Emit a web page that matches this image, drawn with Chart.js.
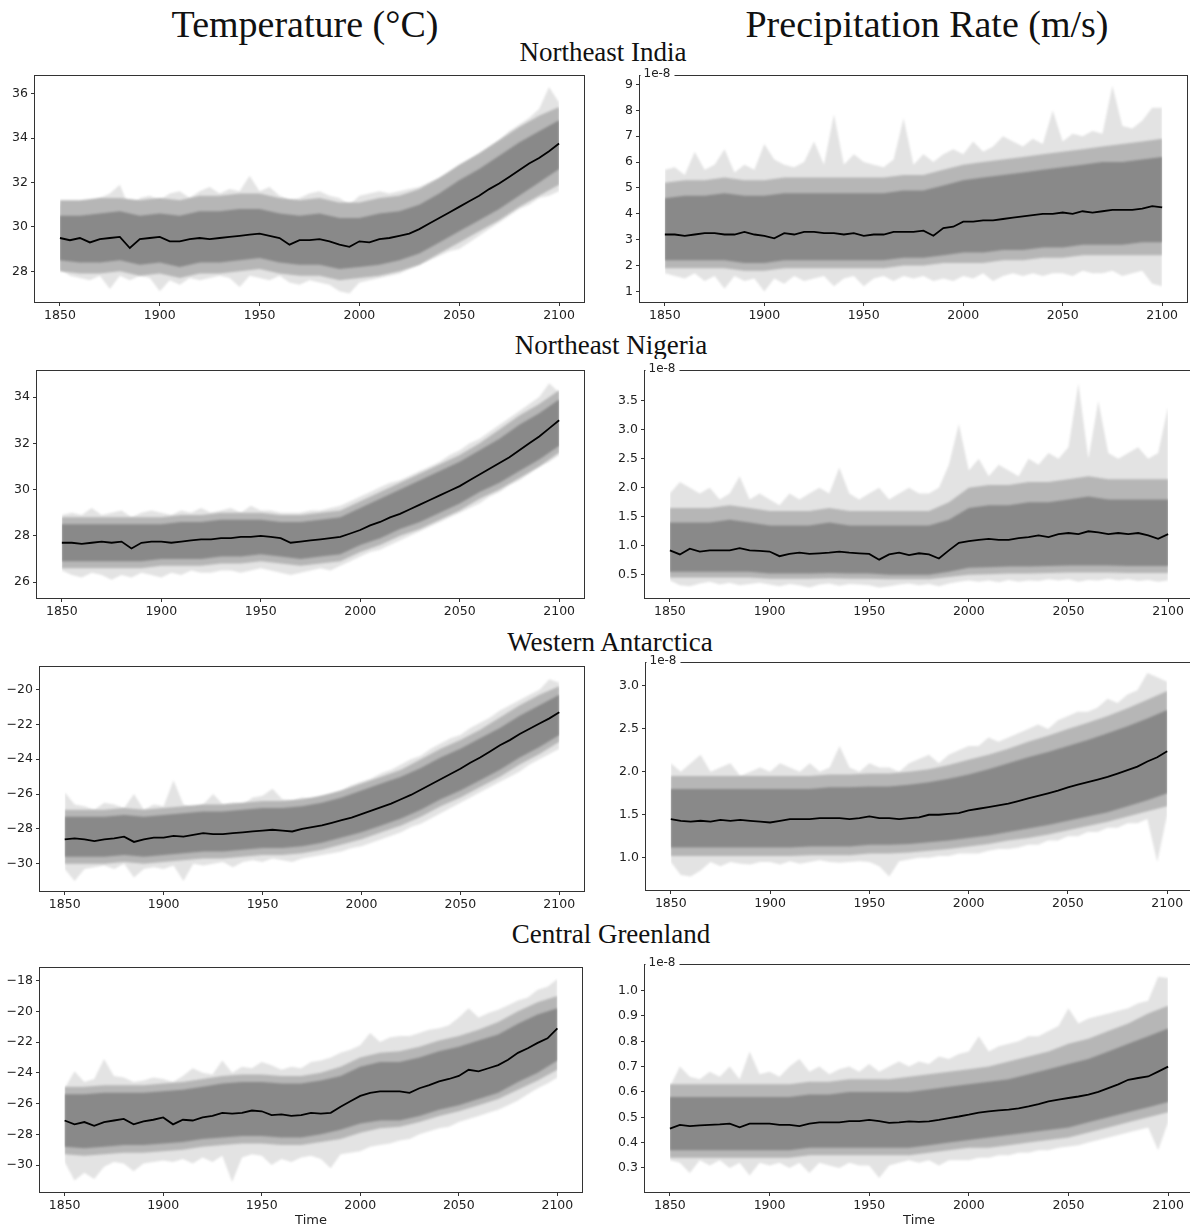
<!DOCTYPE html>
<html><head><meta charset="utf-8">
<script src="https://cdn.jsdelivr.net/npm/chart.js@4.4.1/dist/chart.umd.min.js"></script>
<style>
html,body{margin:0;padding:0;background:#fff;}
body{width:1190px;height:1232px;overflow:hidden;position:relative;}
.t{position:absolute;font-family:'Liberation Serif',serif;color:#111;white-space:nowrap;line-height:1;transform:translateX(-50%);}
.big{font-size:38px;}
.row{font-size:27px;}
canvas{position:absolute;}
</style></head>
<body>
<div class="t big" style="left:305px;top:5px">Temperature (°C)</div>
<div class="t big" style="left:927px;top:5px">Precipitation Rate (m/s)</div>
<div class="t row" style="left:603px;top:39px">Northeast India</div>
<div class="t row" style="left:611px;top:332px">Northeast Nigeria</div>
<div class="t row" style="left:610px;top:629px">Western Antarctica</div>
<div class="t row" style="left:611px;top:921px">Central Greenland</div>
<script>
// ---------- categories ----------
const years5 = [1850,1855,1860,1865,1870,1875,1880,1885,1890,1895,
  1900,1905,1910,1915,1920,1925,1930,1935,1940,1945,
  1950,1955,1960,1965,1970,1975,1980,1985,1990,1995,
  2000,2005,2010,2015,2020,2025,2030,2035,2040,2045,
  2050,2055,2060,2065,2070,2075,2080,2085,2090,2095,2100];
const years10 = [1850,1860,1870,1880,1890,1900,1910,1920,1930,1940,1950,1960,1970,1980,1990,
  2000,2010,2020,2030,2040,2050,2060,2070,2080,2090,2100];
const xTicks = [1850,1900,1950,2000,2050,2100];

// ---------- Northeast India, temperature (°C) ----------
const indiaTempMean = [29.5,29.4,29.5,29.3,29.45,29.5,29.55,29.05,29.45,29.5,
  29.55,29.35,29.35,29.45,29.5,29.45,29.5,29.55,29.6,29.65,
  29.7,29.6,29.5,29.2,29.4,29.4,29.45,29.35,29.2,29.1,
  29.35,29.3,29.45,29.5,29.6,29.7,29.9,30.15,30.4,30.65,
  30.9,31.15,31.4,31.7,31.95,32.25,32.55,32.85,33.1,33.4,33.75];
const indiaTempHi = [31.0,31.0,30.9,31.1,31.3,31.5,31.9,30.8,31.3,31.4,
  31.2,31.5,31.6,31.3,31.6,31.8,31.5,31.7,31.6,32.3,
  31.6,31.8,31.4,31.2,31.3,31.5,31.6,31.4,31.3,31.0,
  31.4,31.5,31.6,31.5,31.6,31.7,31.8,32.0,32.2,32.4,
  32.7,33.0,33.3,33.6,33.9,34.3,34.6,34.9,35.3,36.3,35.6];
const indiaTempLo = [28.1,27.8,27.7,27.6,27.8,27.2,27.8,27.6,27.8,27.7,
  27.1,27.6,27.4,27.7,27.6,27.7,27.8,27.7,27.3,27.8,
  27.7,27.6,27.8,27.5,27.4,27.6,27.5,27.4,27.1,27.0,
  27.5,27.6,27.7,27.8,27.9,28.1,28.3,28.5,28.7,28.9,
  29.0,29.3,29.6,29.9,30.2,30.5,30.8,31.0,31.3,31.4,31.6];
const indiaTempMidHi = [31.2,31.2,31.3,31.3,31.2,31.3,31.2,31.4,31.4,31.5,31.5,31.3,31.2,31.3,31.1,
  31.1,31.3,31.4,31.7,32.2,32.8,33.3,33.9,34.5,35.0,35.4];
const indiaTempMidLo = [28.0,27.9,27.9,28.0,27.8,27.9,27.7,27.9,27.9,28.0,28.1,27.9,27.8,27.8,27.6,
  27.7,27.8,28.0,28.3,28.8,29.3,29.8,30.3,30.9,31.4,31.9];
const indiaTempCoreHi = [30.5,30.5,30.6,30.7,30.5,30.6,30.5,30.7,30.7,30.8,30.8,30.6,30.5,30.6,30.4,
  30.4,30.6,30.7,31.0,31.5,32.1,32.6,33.2,33.8,34.3,34.8];
const indiaTempCoreLo = [28.5,28.4,28.4,28.5,28.3,28.4,28.2,28.4,28.4,28.5,28.6,28.4,28.3,28.3,28.1,
  28.2,28.3,28.5,28.8,29.3,29.8,30.3,30.8,31.4,32.0,32.6];
const indiaTempTicks = [28,30,32,34,36];

// ---------- Northeast Nigeria, temperature (°C) ----------
const nigeriaTempMean = [27.7,27.7,27.65,27.7,27.75,27.7,27.75,27.45,27.7,27.75,
  27.75,27.7,27.75,27.8,27.85,27.85,27.9,27.9,27.95,27.95,
  28.0,27.95,27.9,27.7,27.75,27.8,27.85,27.9,27.95,28.1,
  28.25,28.45,28.6,28.8,28.95,29.15,29.35,29.55,29.75,29.95,
  30.15,30.4,30.65,30.9,31.15,31.4,31.7,32.0,32.3,32.65,33.0];
const nigeriaTempHi = [28.9,29.0,28.9,29.2,28.9,29.0,29.1,28.8,29.0,29.1,
  29.0,28.9,29.1,29.0,29.2,29.0,29.1,29.2,29.0,29.3,
  29.1,29.1,29.0,29.0,29.0,29.1,29.1,29.2,29.3,29.5,
  29.7,29.9,30.1,30.3,30.4,30.6,30.8,31.0,31.2,31.5,
  31.7,32.0,32.2,32.5,32.8,33.1,33.4,33.7,34.0,34.6,34.2];
const nigeriaTempLo = [26.5,26.3,26.2,26.4,26.3,26.1,26.3,26.2,26.4,26.3,
  26.2,26.4,26.3,26.5,26.4,26.4,26.5,26.5,26.4,26.5,
  26.6,26.5,26.4,26.3,26.4,26.5,26.6,26.5,26.7,26.9,
  27.1,27.3,27.4,27.6,27.8,28.0,28.2,28.4,28.6,28.8,
  29.0,29.2,29.4,29.7,29.9,30.2,30.4,30.7,31.0,31.2,31.5];
const nigeriaTempMidHi = [28.8,28.8,28.8,28.8,28.8,28.8,28.9,28.9,29.0,29.0,29.0,28.9,28.9,29.0,29.1,
  29.5,29.9,30.3,30.7,31.1,31.5,32.0,32.6,33.2,33.7,34.3];
const nigeriaTempMidLo = [26.6,26.6,26.6,26.6,26.6,26.7,26.7,26.7,26.8,26.8,26.9,26.8,26.7,26.8,26.9,
  27.3,27.6,28.0,28.3,28.7,29.1,29.6,30.0,30.5,31.0,31.6];
const nigeriaTempCoreHi = [28.5,28.5,28.5,28.5,28.5,28.5,28.6,28.6,28.7,28.7,28.7,28.6,28.6,28.7,28.8,
  29.2,29.6,30.0,30.4,30.8,31.2,31.7,32.2,32.8,33.3,33.9];
const nigeriaTempCoreLo = [26.9,26.9,26.9,26.9,26.9,27.0,27.0,27.0,27.1,27.1,27.2,27.1,27.0,27.1,27.2,
  27.6,27.9,28.3,28.6,29.0,29.4,29.9,30.3,30.8,31.3,31.9];
const nigeriaTempTicks = [26,28,30,32,34];

// ---------- Western Antarctica, temperature (°C) ----------
const antarcticaTempMean = [-28.6,-28.55,-28.6,-28.7,-28.6,-28.55,-28.45,-28.75,-28.6,-28.5,
  -28.5,-28.4,-28.45,-28.35,-28.25,-28.3,-28.3,-28.25,-28.2,-28.15,
  -28.1,-28.05,-28.1,-28.15,-28.0,-27.9,-27.8,-27.65,-27.5,-27.35,
  -27.15,-26.95,-26.75,-26.55,-26.3,-26.05,-25.75,-25.45,-25.15,-24.85,
  -24.55,-24.2,-23.9,-23.55,-23.2,-22.9,-22.55,-22.25,-21.95,-21.65,-21.3];
const antarcticaTempHi = [-25.9,-26.6,-26.7,-26.9,-26.5,-26.6,-26.8,-26.0,-26.9,-26.6,
  -26.7,-25.2,-26.6,-26.8,-26.6,-26.0,-26.6,-26.5,-26.6,-26.2,
  -26.1,-25.7,-26.3,-26.4,-26.2,-26.3,-26.1,-26.0,-25.8,-25.5,
  -25.3,-25.1,-24.8,-24.6,-24.3,-24.0,-23.8,-23.4,-23.1,-22.8,
  -22.6,-22.2,-21.9,-21.6,-21.2,-20.9,-20.6,-20.3,-20.0,-19.4,-19.6];
const antarcticaTempLo = [-30.3,-31.0,-30.3,-30.2,-30.1,-30.3,-30.0,-30.8,-30.3,-30.2,
  -30.3,-30.1,-31.0,-30.0,-30.1,-30.0,-29.9,-30.2,-29.9,-29.8,
  -29.9,-29.7,-29.8,-29.9,-29.7,-29.6,-29.5,-29.4,-29.3,-29.1,
  -29.0,-28.8,-28.6,-28.4,-28.2,-27.9,-27.7,-27.4,-27.1,-26.8,
  -26.5,-26.2,-25.9,-25.6,-25.3,-25.0,-24.7,-24.3,-24.0,-23.7,-23.4];
const antarcticaTempMidHi = [-26.9,-26.9,-26.9,-26.8,-26.9,-26.8,-26.7,-26.6,-26.6,-26.5,-26.4,-26.4,-26.3,-26.1,-25.8,
  -25.4,-25.0,-24.6,-24.0,-23.4,-22.9,-22.3,-21.6,-20.9,-20.3,-19.8];
const antarcticaTempMidLo = [-30.0,-30.0,-30.0,-29.9,-30.0,-29.9,-29.8,-29.7,-29.7,-29.6,-29.5,-29.5,-29.4,-29.2,-28.9,
  -28.6,-28.2,-27.8,-27.3,-26.7,-26.2,-25.6,-25.0,-24.3,-23.7,-23.0];
const antarcticaTempCoreHi = [-27.3,-27.3,-27.3,-27.2,-27.3,-27.2,-27.1,-27.0,-27.0,-26.9,-26.8,-26.8,-26.7,-26.5,-26.2,
  -25.8,-25.4,-25.0,-24.5,-23.9,-23.4,-22.8,-22.2,-21.5,-20.9,-20.3];
const antarcticaTempCoreLo = [-29.6,-29.6,-29.6,-29.5,-29.6,-29.5,-29.4,-29.3,-29.3,-29.2,-29.1,-29.1,-29.0,-28.8,-28.5,
  -28.2,-27.8,-27.4,-26.9,-26.3,-25.8,-25.2,-24.6,-23.9,-23.3,-22.6];
const antarcticaTempTicks = [-30,-28,-26,-24,-22,-20];

// ---------- Central Greenland, temperature (°C) ----------
const greenlandTempMean = [-27.1,-27.35,-27.2,-27.45,-27.2,-27.1,-27.0,-27.35,-27.15,-27.05,
  -26.9,-27.35,-27.05,-27.1,-26.9,-26.8,-26.6,-26.65,-26.6,-26.45,
  -26.5,-26.75,-26.7,-26.8,-26.75,-26.6,-26.65,-26.6,-26.2,-25.85,
  -25.5,-25.3,-25.2,-25.2,-25.2,-25.3,-25.0,-24.8,-24.55,-24.4,
  -24.2,-23.8,-23.9,-23.7,-23.5,-23.15,-22.7,-22.4,-22.05,-21.75,-21.1];
const greenlandTempHi = [-25.0,-23.9,-24.6,-24.4,-23.1,-24.2,-24.3,-24.6,-24.5,-24.3,
  -24.4,-24.6,-24.2,-23.7,-24.0,-24.1,-23.2,-24.0,-23.6,-23.7,
  -23.3,-23.5,-23.8,-23.6,-23.7,-23.3,-23.2,-23.0,-22.7,-22.5,
  -22.2,-21.4,-22.0,-21.7,-21.6,-21.6,-21.4,-21.2,-21.1,-20.9,
  -20.4,-19.8,-20.4,-20.1,-19.9,-19.6,-19.3,-19.1,-18.6,-18.4,-17.9];
const greenlandTempLo = [-29.8,-31.0,-30.5,-30.9,-30.1,-29.8,-29.9,-30.4,-29.9,-29.8,
  -29.7,-29.8,-29.6,-29.9,-29.5,-29.8,-29.4,-31.1,-29.5,-29.3,
  -29.4,-30.0,-29.6,-29.8,-29.5,-29.4,-29.6,-30.2,-29.3,-29.2,
  -29.1,-28.8,-28.7,-28.6,-28.4,-28.3,-28.0,-27.8,-27.6,-27.5,
  -27.2,-27.0,-26.8,-26.6,-26.4,-26.1,-25.8,-25.4,-25.0,-24.7,-24.3];
const greenlandTempMidHi = [-24.9,-24.9,-24.8,-24.8,-24.8,-24.7,-24.6,-24.4,-24.2,-24.1,-24.1,-24.2,-24.2,-24.0,-23.6,
  -23.0,-22.7,-22.6,-22.3,-21.9,-21.6,-21.2,-20.7,-20.0,-19.4,-19.0];
const greenlandTempMidLo = [-29.3,-29.4,-29.3,-29.2,-29.2,-29.1,-29.0,-28.8,-28.7,-28.6,-28.6,-28.7,-28.7,-28.5,-28.3,
  -27.9,-27.6,-27.5,-27.2,-26.8,-26.5,-26.1,-25.7,-25.1,-24.5,-23.8];
const greenlandTempCoreHi = [-25.4,-25.4,-25.3,-25.3,-25.3,-25.2,-25.1,-24.9,-24.7,-24.6,-24.6,-24.7,-24.7,-24.5,-24.2,
  -23.6,-23.3,-23.3,-23.0,-22.6,-22.3,-21.9,-21.5,-20.8,-20.2,-19.8];
const greenlandTempCoreLo = [-28.8,-28.9,-28.8,-28.7,-28.7,-28.6,-28.5,-28.3,-28.2,-28.1,-28.1,-28.2,-28.2,-28.0,-27.7,
  -27.3,-27.1,-27.1,-26.8,-26.4,-26.1,-25.7,-25.3,-24.6,-24.0,-23.2];
const greenlandTempTicks = [-30,-28,-26,-24,-22,-20,-18];

// ---------- precipitation rate, in units of 1e-8 m/s ----------
const indiaPrecipMean = [3.2,3.2,3.15,3.2,3.25,3.25,3.2,3.2,3.3,3.2,
  3.15,3.05,3.25,3.2,3.3,3.3,3.25,3.25,3.2,3.25,
  3.15,3.2,3.2,3.3,3.3,3.3,3.35,3.15,3.45,3.5,
  3.7,3.7,3.75,3.75,3.8,3.85,3.9,3.95,4.0,4.0,
  4.05,4.0,4.1,4.05,4.1,4.15,4.15,4.15,4.2,4.3,4.25];
const indiaPrecipHi = [5.7,5.8,5.5,6.4,5.7,5.9,6.5,5.6,5.9,5.7,
  6.7,6.1,5.9,5.8,6.0,6.8,5.9,7.85,5.9,6.3,
  6.0,5.9,5.8,6.1,7.7,5.9,6.3,6.0,6.3,6.5,
  6.3,6.8,6.4,6.6,7.0,6.8,6.6,6.9,6.7,8.0,
  6.8,7.1,7.0,7.2,7.1,8.95,7.4,7.3,7.6,8.1,8.1];
const indiaPrecipLo = [1.7,1.6,1.5,1.7,1.4,1.6,1.1,1.6,1.4,1.5,
  1.0,1.5,1.3,1.6,1.4,1.5,1.6,1.2,1.5,1.6,
  1.2,1.5,1.6,1.4,1.6,1.5,1.6,1.4,1.5,1.4,
  1.6,1.5,1.7,1.4,1.6,1.7,1.6,1.7,1.6,1.7,
  1.7,1.6,1.8,1.7,1.7,1.8,1.6,1.7,1.8,1.3,1.2];
const indiaPrecipMidHi = [5.2,5.3,5.3,5.4,5.3,5.3,5.4,5.4,5.4,5.4,5.4,5.4,5.5,5.5,5.7,
  5.9,6.0,6.1,6.2,6.3,6.4,6.5,6.6,6.7,6.8,6.9];
const indiaPrecipMidLo = [1.9,1.9,1.9,1.9,1.8,1.8,1.9,1.9,1.9,1.9,1.9,1.9,2.0,2.0,2.1,
  2.1,2.1,2.2,2.2,2.3,2.3,2.4,2.4,2.4,2.4,2.4];
const indiaPrecipCoreHi = [4.6,4.7,4.7,4.8,4.7,4.7,4.8,4.8,4.8,4.8,4.8,4.8,4.9,4.9,5.1,
  5.3,5.4,5.5,5.6,5.7,5.8,5.9,6.0,6.0,6.1,6.2];
const indiaPrecipCoreLo = [2.2,2.2,2.2,2.2,2.1,2.1,2.2,2.2,2.2,2.2,2.2,2.2,2.3,2.3,2.4,
  2.5,2.5,2.6,2.6,2.7,2.7,2.8,2.8,2.8,2.9,2.9];
const indiaPrecipTicks = [1,2,3,4,5,6,7,8,9];

const nigeriaPrecipMean = [0.92,0.85,0.95,0.9,0.92,0.92,0.92,0.96,0.92,0.91,
  0.9,0.82,0.86,0.88,0.86,0.87,0.88,0.9,0.88,0.87,
  0.86,0.76,0.85,0.88,0.84,0.87,0.85,0.78,0.92,1.05,
  1.08,1.1,1.12,1.1,1.1,1.13,1.15,1.18,1.15,1.2,
  1.22,1.2,1.25,1.23,1.2,1.22,1.2,1.22,1.18,1.12,1.2];
const nigeriaPrecipHi = [1.9,2.1,2.0,1.9,2.0,1.8,1.9,2.2,1.8,1.9,
  1.8,1.7,1.9,1.8,1.9,2.0,1.9,2.35,1.9,1.8,
  1.9,2.0,1.8,1.9,2.0,1.9,1.9,2.0,2.4,3.1,
  2.3,2.5,2.2,2.4,2.3,2.2,2.5,2.4,2.6,2.5,
  2.7,3.8,2.5,3.5,2.6,2.5,2.6,2.7,2.5,2.6,3.4];
const nigeriaPrecipLo = [0.4,0.32,0.3,0.35,0.38,0.33,0.36,0.32,0.34,0.36,
  0.33,0.3,0.34,0.32,0.28,0.33,0.35,0.31,0.34,0.33,
  0.32,0.28,0.3,0.33,0.35,0.32,0.34,0.3,0.35,0.38,
  0.4,0.38,0.4,0.37,0.41,0.38,0.4,0.39,0.42,0.4,
  0.42,0.38,0.41,0.4,0.43,0.4,0.42,0.39,0.41,0.38,0.4];
const nigeriaPrecipMidHi = [1.65,1.65,1.65,1.7,1.65,1.6,1.6,1.6,1.65,1.6,1.6,1.6,1.6,1.6,1.75,
  2.0,2.05,2.05,2.1,2.1,2.15,2.2,2.15,2.15,2.15,2.15];
const nigeriaPrecipMidLo = [0.45,0.45,0.45,0.45,0.45,0.43,0.43,0.43,0.44,0.43,0.43,0.42,0.42,0.42,0.46,
  0.5,0.51,0.52,0.52,0.53,0.54,0.54,0.54,0.53,0.53,0.53];
const nigeriaPrecipCoreHi = [1.4,1.4,1.4,1.45,1.4,1.35,1.35,1.35,1.4,1.35,1.35,1.35,1.35,1.35,1.45,
  1.65,1.7,1.7,1.75,1.75,1.8,1.85,1.8,1.8,1.8,1.8];
const nigeriaPrecipCoreLo = [0.55,0.55,0.55,0.55,0.55,0.52,0.52,0.52,0.53,0.52,0.52,0.5,0.5,0.5,0.55,
  0.62,0.63,0.64,0.64,0.65,0.66,0.66,0.66,0.65,0.65,0.65];
const nigeriaPrecipTicks = [0.5,1.0,1.5,2.0,2.5,3.0,3.5];

const antarcticaPrecipMean = [1.45,1.43,1.42,1.43,1.42,1.44,1.43,1.44,1.43,1.42,
  1.41,1.43,1.45,1.45,1.45,1.46,1.46,1.46,1.45,1.46,
  1.48,1.46,1.46,1.45,1.46,1.47,1.5,1.5,1.51,1.52,
  1.55,1.57,1.59,1.61,1.63,1.66,1.69,1.72,1.75,1.78,
  1.82,1.85,1.88,1.91,1.94,1.98,2.02,2.06,2.12,2.17,2.24];
const antarcticaPrecipHi = [2.1,2.0,2.1,2.2,2.0,2.05,2.1,1.95,2.0,2.05,
  2.0,2.1,2.05,2.0,2.1,2.0,2.05,2.3,2.05,2.0,
  2.1,2.05,2.05,2.0,2.1,2.15,2.2,2.1,2.2,2.25,
  2.3,2.3,2.4,2.35,2.4,2.45,2.5,2.55,2.5,2.6,
  2.65,2.7,2.7,2.75,2.85,2.8,2.9,2.95,3.15,3.1,3.05];
const antarcticaPrecipLo = [0.95,0.8,0.78,0.85,0.95,0.9,0.95,0.93,0.92,0.95,
  0.95,0.92,0.96,0.93,0.95,0.97,0.95,0.94,0.95,0.96,
  0.95,0.9,0.78,0.96,0.98,1.0,1.0,1.02,1.02,1.05,
  1.05,1.05,1.08,1.1,1.1,1.12,1.15,1.15,1.2,1.2,
  1.25,1.25,1.3,1.3,1.35,1.35,1.4,1.4,1.45,0.95,1.5];
const antarcticaPrecipMidHi = [1.95,1.95,1.95,1.95,1.95,1.95,1.95,1.95,1.97,1.97,1.98,1.98,2.0,2.03,2.08,
  2.14,2.2,2.27,2.35,2.42,2.5,2.57,2.65,2.74,2.84,2.94];
const antarcticaPrecipMidLo = [1.02,1.02,1.02,1.02,1.02,1.02,1.02,1.03,1.03,1.03,1.05,1.05,1.06,1.08,1.1,
  1.13,1.16,1.2,1.23,1.27,1.32,1.37,1.42,1.48,1.54,1.6];
const antarcticaPrecipCoreHi = [1.8,1.8,1.8,1.8,1.8,1.8,1.8,1.8,1.82,1.82,1.83,1.83,1.85,1.88,1.92,
  1.97,2.03,2.1,2.17,2.23,2.3,2.37,2.45,2.53,2.62,2.72];
const antarcticaPrecipCoreLo = [1.12,1.12,1.12,1.12,1.12,1.12,1.12,1.13,1.13,1.13,1.15,1.15,1.16,1.18,1.2,
  1.23,1.26,1.3,1.34,1.38,1.43,1.48,1.53,1.6,1.67,1.75];
const antarcticaPrecipTicks = [1.0,1.5,2.0,2.5,3.0];

const greenlandPrecipMean = [0.455,0.47,0.465,0.468,0.47,0.472,0.475,0.46,0.475,0.475,
  0.475,0.47,0.47,0.465,0.475,0.48,0.48,0.48,0.485,0.485,
  0.49,0.485,0.478,0.48,0.484,0.482,0.484,0.49,0.497,0.503,
  0.51,0.518,0.523,0.527,0.53,0.535,0.543,0.552,0.563,0.57,
  0.576,0.582,0.589,0.6,0.615,0.63,0.648,0.655,0.661,0.68,0.70];
const greenlandPrecipHi = [0.62,0.7,0.66,0.65,0.68,0.66,0.7,0.65,0.76,0.67,
  0.68,0.66,0.7,0.73,0.68,0.7,0.67,0.69,0.7,0.68,
  0.71,0.68,0.7,0.72,0.7,0.72,0.71,0.74,0.73,0.75,
  0.76,0.82,0.76,0.78,0.79,0.8,0.82,0.82,0.84,0.86,
  0.93,0.87,0.89,0.9,0.91,0.92,0.93,0.95,0.96,1.055,1.05];
const greenlandPrecipLo = [0.33,0.32,0.28,0.33,0.31,0.33,0.3,0.32,0.27,0.32,
  0.31,0.32,0.3,0.32,0.28,0.32,0.31,0.3,0.32,0.31,
  0.31,0.26,0.31,0.32,0.33,0.32,0.33,0.31,0.33,0.33,
  0.33,0.34,0.34,0.35,0.35,0.36,0.36,0.37,0.37,0.38,
  0.385,0.39,0.4,0.41,0.42,0.43,0.44,0.45,0.46,0.37,0.48];
const greenlandPrecipMidHi = [0.63,0.63,0.63,0.63,0.63,0.63,0.63,0.64,0.64,0.65,0.65,0.65,0.66,0.67,0.68,
  0.69,0.7,0.72,0.74,0.76,0.79,0.81,0.84,0.87,0.91,0.94];
const greenlandPrecipMidLo = [0.34,0.34,0.34,0.34,0.34,0.34,0.34,0.35,0.35,0.35,0.35,0.35,0.35,0.36,0.37,
  0.38,0.38,0.39,0.4,0.41,0.42,0.44,0.46,0.48,0.5,0.52];
const greenlandPrecipCoreHi = [0.58,0.58,0.58,0.58,0.58,0.58,0.58,0.59,0.59,0.6,0.6,0.6,0.6,0.61,0.62,
  0.63,0.64,0.65,0.67,0.69,0.71,0.73,0.76,0.79,0.82,0.85];
const greenlandPrecipCoreLo = [0.37,0.37,0.37,0.37,0.37,0.37,0.37,0.38,0.38,0.38,0.38,0.38,0.38,0.39,0.4,
  0.41,0.42,0.43,0.44,0.45,0.46,0.48,0.5,0.52,0.54,0.56];
const greenlandPrecipTicks = [0.3,0.4,0.5,0.6,0.7,0.8,0.9,1.0];

// ---------- layout (axes boxes in page pixels: left, top, right, bottom) ----------
const panels = [
  {box:[35,76,584,302],   yr:[26.62,36.79],  ticks:indiaTempTicks, dec:0, d:[indiaTempMean,indiaTempHi,indiaTempLo,indiaTempMidHi,indiaTempMidLo,indiaTempCoreHi,indiaTempCoreLo], off:false, time:false},
  {box:[37,371,584,598],  yr:[25.31,35.13],  ticks:nigeriaTempTicks, dec:0, d:[nigeriaTempMean,nigeriaTempHi,nigeriaTempLo,nigeriaTempMidHi,nigeriaTempMidLo,nigeriaTempCoreHi,nigeriaTempCoreLo], off:false, time:false},
  {box:[40,667,584,891],  yr:[-31.57,-18.70], ticks:antarcticaTempTicks, dec:0, d:[antarcticaTempMean,antarcticaTempHi,antarcticaTempLo,antarcticaTempMidHi,antarcticaTempMidLo,antarcticaTempCoreHi,antarcticaTempCoreLo], off:false, time:false},
  {box:[40,968,582,1192], yr:[-31.75,-17.18], ticks:greenlandTempTicks, dec:0, d:[greenlandTempMean,greenlandTempHi,greenlandTempLo,greenlandTempMidHi,greenlandTempMidLo,greenlandTempCoreHi,greenlandTempCoreLo], off:false, time:true},
  {box:[640,76,1187,302], yr:[0.59,9.33],   ticks:indiaPrecipTicks, dec:0, d:[indiaPrecipMean,indiaPrecipHi,indiaPrecipLo,indiaPrecipMidHi,indiaPrecipMidLo,indiaPrecipCoreHi,indiaPrecipCoreLo], off:true, time:false},
  {box:[645,371,1193,598],yr:[0.098,4.017], ticks:nigeriaPrecipTicks, dec:1, d:[nigeriaPrecipMean,nigeriaPrecipHi,nigeriaPrecipLo,nigeriaPrecipMidHi,nigeriaPrecipMidLo,nigeriaPrecipCoreHi,nigeriaPrecipCoreLo], off:true, time:false},
  {box:[646,663,1192,890],yr:[0.624,3.267], ticks:antarcticaPrecipTicks, dec:1, d:[antarcticaPrecipMean,antarcticaPrecipHi,antarcticaPrecipLo,antarcticaPrecipMidHi,antarcticaPrecipMidLo,antarcticaPrecipCoreHi,antarcticaPrecipCoreLo], off:true, time:false},
  {box:[645,965,1193,1192],yr:[0.205,1.101],ticks:greenlandPrecipTicks, dec:1, d:[greenlandPrecipMean,greenlandPrecipHi,greenlandPrecipLo,greenlandPrecipMidHi,greenlandPrecipMidLo,greenlandPrecipCoreHi,greenlandPrecipCoreLo], off:true, time:true}
];

const YW = 36, PT = 12, PR = 3;
const TICK_FONT = {family:'DejaVu Sans', size:12.5};
const AX = '#333';

function pts(xs, ys){ return xs.map((x,i)=>({x:x, y:ys[i]})); }
function fmt(v, dec){ return Number(v).toFixed(dec).replace('-', '\u2212'); }

const framePlugin = {
  id:'frame',
  beforeDatasetsDraw(chart){ chart.ctx.save(); chart.ctx.filter = 'blur(1.3px)'; },
  beforeDatasetDraw(chart, args){ if (args.index === 0) chart.ctx.filter = 'none'; },
  afterDatasetsDraw(chart){ chart.ctx.filter = 'none'; chart.ctx.restore(); },
  afterDraw(chart, args, opts){
    const ctx = chart.ctx, a = chart.chartArea;
    const l = Math.round(a.left)-0.5, t = Math.round(a.top)-0.5, r = Math.round(a.right)+0.5, b = Math.round(a.bottom)+0.5;
    ctx.save();
    ctx.strokeStyle = AX; ctx.lineWidth = 1;
    ctx.strokeRect(l, t, r-l, b-t);
    if (opts.off){
      ctx.font = '12px "DejaVu Sans"';
      const w = ctx.measureText('1e-8').width;
      ctx.fillStyle = '#fff';
      ctx.fillRect(l+1, t-12, w+7, 13);
      ctx.fillStyle = '#222';
      ctx.textBaseline = 'alphabetic'; ctx.textAlign = 'left';
      ctx.fillText('1e-8', l+4, t+1);
    }
    ctx.restore();
  }
};

const band = (xs, ys, color, fillNext) => ({data:pts(xs, ys), borderWidth:0, borderColor:'rgba(0,0,0,0)',
  backgroundColor:color, pointRadius:0, fill: fillNext ? '+1' : false, tension:0});

panels.forEach((p)=>{
  const [L,T,R,B] = p.box;
  const XH = p.time ? (1232 - B) : 24;
  const cv = document.createElement('canvas');
  const w = (R-L) + YW + PR, h = (B-T) + PT + XH;
  cv.width = w; cv.height = h;
  cv.style.left = (L-YW)+'px'; cv.style.top = (T-PT)+'px';
  cv.style.width = w+'px'; cv.style.height = h+'px';
  document.body.appendChild(cv);
  const [mean, hi, lo, mHi, mLo, cHi, cLo] = p.d;
  new Chart(cv.getContext('2d'), {
    type:'line',
    data:{ datasets:[
      {data:pts(years5, mean), borderColor:'#000', borderWidth:1.8, pointRadius:0, fill:false, tension:0},
      band(years10, cHi, '#898989', true),
      band(years10, cLo, null, false),
      band(years10, mHi, '#b6b6b6', true),
      band(years10, mLo, null, false),
      band(years5, hi, '#e3e3e3', true),
      band(years5, lo, null, false)
    ]},
    options:{
      responsive:false, animation:false, devicePixelRatio:1,
      layout:{autoPadding:false, padding:{top:PT, right:PR, left:0, bottom:0}},
      plugins:{legend:{display:false}, tooltip:{enabled:false}, frame:{off:p.off}},
      scales:{
        x:{type:'linear', min:1837.5, max:2112.5,
          afterBuildTicks:(s)=>{ s.ticks = xTicks.map(v=>({value:v})); },
          afterFit:(s)=>{ s.height = XH; },
          ticks:{font:TICK_FONT, color:'#222', padding:2, autoSkip:false, maxRotation:0, callback:(v)=>String(v)},
          grid:{display:true, drawOnChartArea:false, drawTicks:true, tickLength:4, color:AX, lineWidth:1},
          border:{display:false},
          title:{display:p.time, text:'Time', font:{family:'DejaVu Sans', size:13}, color:'#222', padding:{top:0,bottom:4}}
        },
        y:{type:'linear', min:p.yr[0], max:p.yr[1],
          afterBuildTicks:(s)=>{ s.ticks = p.ticks.map(v=>({value:v})); },
          afterFit:(s)=>{ s.width = YW; },
          ticks:{font:TICK_FONT, color:'#222', padding:3, autoSkip:false, callback:(v)=>fmt(v, p.dec)},
          grid:{display:true, drawOnChartArea:false, drawTicks:true, tickLength:4, color:AX, lineWidth:1},
          border:{display:false}
        }
      }
    },
    plugins:[framePlugin]
  });
});
</script>
</body></html>
